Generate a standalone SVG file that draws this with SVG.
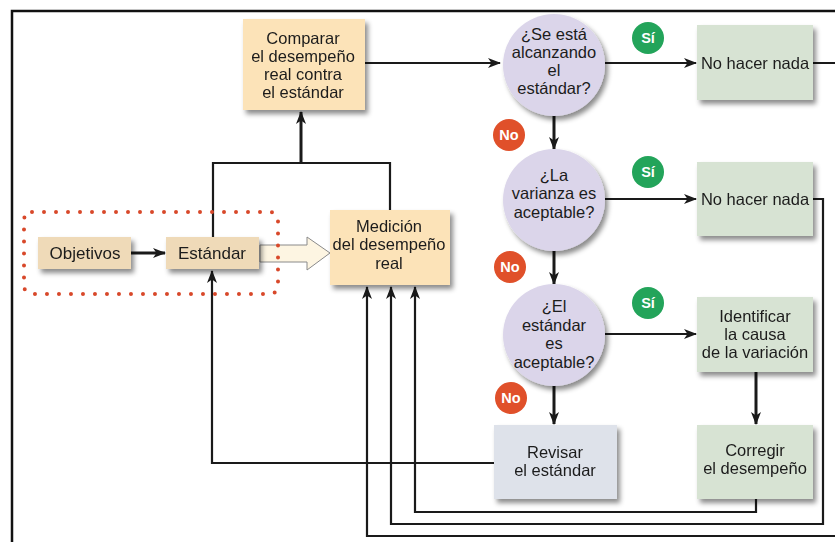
<svg xmlns="http://www.w3.org/2000/svg" width="835" height="542" viewBox="0 0 835 542">
  <style>
    .t { font-family: "Liberation Sans", Arial, sans-serif; font-size: 16.5px; fill: #1c1c1c; text-anchor: middle; }
    .t.sm { font-size: 16.5px; }
    .t.lg { font-size: 17px; }
    .badge { font-family: "Liberation Sans", Arial, sans-serif; font-size: 14.5px; font-weight: bold; fill: #ffffff; text-anchor: middle; }
    .ln { fill: none; stroke: #1a1a1a; stroke-width: 2.2; }
    .thick { stroke-width: 3; }
    .arr { marker-end: url(#head); }
    .peach { fill: #fce3b8; }
    .tan { fill: #efdab8; }
    .lav { fill: #dbd5ea; }
    .green { fill: #d7e3d3; }
    .blue { fill: #dee2ea; }
    .yes { fill: #23a45a; }
    .no { fill: #e0502a; }
  </style>
  <defs>
    <marker id="head" viewBox="0 0 13 10" refX="12" refY="5" markerWidth="13" markerHeight="10" markerUnits="userSpaceOnUse" orient="auto">
      <path d="M0,0 L13,5 L0,10 L3.5,5 z" fill="#1a1a1a"/>
    </marker>
    <filter id="shadow" x="-20%" y="-20%" width="150%" height="150%">
      <feDropShadow dx="3" dy="4" stdDeviation="2.5" flood-color="#000" flood-opacity="0.45"/>
    </filter>
  </defs>

  <rect width="835" height="542" fill="#ffffff"/>

  <!-- frame -->
  <path d="M12,542 V11 H835" fill="none" stroke="#111" stroke-width="2.5"/>

  <!-- connectors -->
  <g id="connectors">
    <path class="ln thick arr" d="M131,253 H165"/>
    <path class="ln" d="M213,237 V163 H390 V210"/>
    <path class="ln thick arr" d="M301,163 V112"/>
    <path class="ln arr" d="M365,63 H500"/>
    <path class="ln arr" d="M605,63 H696"/>
    <path class="ln thick arr" d="M554,115 V149"/>
    <path class="ln arr" d="M605,199 H696"/>
    <path class="ln thick arr" d="M554,250 V284"/>
    <path class="ln arr" d="M605,334 H696"/>
    <path class="ln thick arr" d="M554,385 V424"/>
    <path class="ln thick arr" d="M756,372 V424"/>
    <path class="ln arr" d="M494,463 H212 V271"/>
    <path class="ln arr" d="M756,499 V512 H415 V287"/>
    <path class="ln arr" d="M813,199 H823 V524 H391 V287"/>
    <path class="ln arr" d="M813,63 H845 V536 H367 V287"/>
    <!-- hollow arrow from the standard to the measurement -->
    <polygon points="260,245 307,245 307,237 330,253 307,270 307,262 260,262" fill="#fdf5e2" stroke="#8a8a8a" stroke-width="1"/>
  </g>

  <!-- goals / standard group -->
  <g id="planning">
    <rect x="24" y="212" width="254" height="82" rx="8" fill="none" stroke="#d8482a" stroke-width="4" stroke-linecap="round" stroke-dasharray="0 12"/>
  </g>
  <g id="objetivos" filter="url(#shadow)">
    <rect class="tan" x="38" y="237" width="93" height="32"/>
    <text class="t lg" x="85" y="259">Objetivos</text>
  </g>
  <g id="estandar" filter="url(#shadow)">
    <rect class="tan" x="166" y="237" width="93" height="32"/>
    <text class="t lg" x="212" y="259">Estándar</text>
  </g>

  <g id="comparar" filter="url(#shadow)">
    <rect class="peach" x="243" y="19" width="122" height="91"/>
    <text class="t" x="303" y="44">Comparar</text>
    <text class="t" x="303" y="62">el desempeño</text>
    <text class="t" x="303" y="80">real contra</text>
    <text class="t" x="303" y="98">el estándar</text>
  </g>

  <g id="medicion" filter="url(#shadow)">
    <rect class="peach" x="330" y="210" width="120" height="75"/>
    <text class="t" x="389" y="232">Medición</text>
    <text class="t" x="389" y="250">del desempeño</text>
    <text class="t" x="389" y="269">real</text>
  </g>

  <g id="q-alcanzando">
    <circle class="lav" cx="554" cy="65" r="51" filter="url(#shadow)"/>
    <text class="t" x="554" y="40">¿Se está</text>
    <text class="t" x="554" y="58">alcanzando</text>
    <text class="t" x="554" y="76">el</text>
    <text class="t" x="554" y="94">estándar?</text>
  </g>
  <g id="q-varianza">
    <circle class="lav" cx="554" cy="200" r="51" filter="url(#shadow)"/>
    <text class="t" x="554" y="181">¿La</text>
    <text class="t" x="554" y="199">varianza es</text>
    <text class="t" x="554" y="218">aceptable?</text>
  </g>
  <g id="q-estandar">
    <circle class="lav" cx="554" cy="335" r="51" filter="url(#shadow)"/>
    <text class="t" x="554" y="312">¿El</text>
    <text class="t" x="554" y="331">estándar</text>
    <text class="t" x="554" y="349">es</text>
    <text class="t" x="554" y="368">aceptable?</text>
  </g>

  <g id="nada-1" filter="url(#shadow)">
    <rect class="green" x="697" y="25" width="116" height="75"/>
    <text class="t sm" x="755" y="69">No hacer nada</text>
  </g>
  <g id="nada-2" filter="url(#shadow)">
    <rect class="green" x="697" y="162" width="116" height="74"/>
    <text class="t sm" x="755" y="205">No hacer nada</text>
  </g>
  <g id="identificar" filter="url(#shadow)">
    <rect class="green" x="697" y="297" width="116" height="75"/>
    <text class="t" x="755" y="322">Identificar</text>
    <text class="t" x="755" y="340">la causa</text>
    <text class="t" x="755" y="358">de la variación</text>
  </g>
  <g id="corregir" filter="url(#shadow)">
    <rect class="green" x="697" y="425" width="116" height="74"/>
    <text class="t" x="755" y="456">Corregir</text>
    <text class="t" x="755" y="474">el desempeño</text>
  </g>
  <g id="revisar" filter="url(#shadow)">
    <rect class="blue" x="494" y="425" width="123" height="74"/>
    <text class="t" x="555" y="458">Revisar</text>
    <text class="t" x="555" y="476">el estándar</text>
  </g>

  <!-- yes / no badges -->
  <g id="si-1"><circle class="yes" cx="648" cy="38" r="16"/><text class="badge" x="648" y="43">Sí</text></g>
  <g id="si-2"><circle class="yes" cx="648" cy="172" r="16"/><text class="badge" x="648" y="177">Sí</text></g>
  <g id="si-3"><circle class="yes" cx="648" cy="303" r="16"/><text class="badge" x="648" y="308">Sí</text></g>
  <g id="no-1"><circle class="no" cx="509" cy="135" r="16"/><text class="badge" x="509" y="140">No</text></g>
  <g id="no-2"><circle class="no" cx="510" cy="267" r="16"/><text class="badge" x="510" y="272">No</text></g>
  <g id="no-3"><circle class="no" cx="511" cy="398" r="16"/><text class="badge" x="511" y="403">No</text></g>
</svg>
